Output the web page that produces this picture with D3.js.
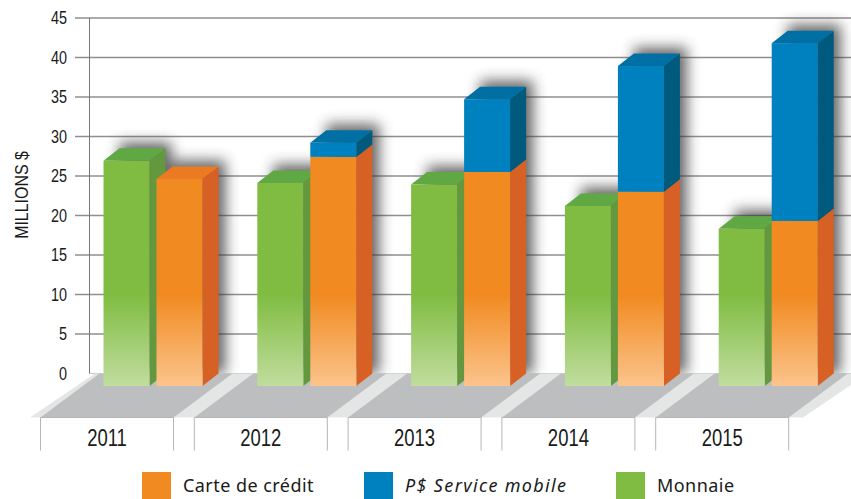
<!DOCTYPE html>
<html>
<head>
<meta charset="utf-8">
<script src="https://cdn.jsdelivr.net/npm/d3@7"></script>
<style>
  html, body { margin: 0; padding: 0; background: #fff; overflow: hidden; }
  svg { display: block; }
  text { fill: #1a1a1a; }
</style>
</head>
<body>
<script>
// values, millions of dollars
var years = ['2011', '2012', '2013', '2014', '2015'];
var monnaie = [28.5, 25.7, 25.5, 22.8, 19.9];
var carte = [26.2, 29.0, 27.1, 24.6, 20.9];
var mobile = [0, 1.8, 9.2, 15.9, 22.5];
var yTicks = [0, 5, 10, 15, 20, 25, 30, 35, 40, 45];
var legendNames = ['Carte de crédit', 'P$ Service mobile', 'Monnaie'];

var width = 851,
    height = 499,
    depthX = 16,
    depthY = 12.5,
    barW = 46,
    panelW = 133;

var colors = {
  monnaie: { front: '#80bc41', pale: '#c0dd9e', side: '#64983e', top: '#5fa843' },
  carte: { front: '#f18a20', pale: '#fbc48c', side: '#d76125', top: '#ec7a23' },
  mobile: { front: '#0081bf', pale: '#0081bf', side: '#005a7e', top: '#006fa3' }
};

var svg = d3.select('body').append('svg')
    .attr('width', width)
    .attr('height', height);

var y = d3.scaleLinear().domain([0, 45]).range([373.5, 18]);
var x = d3.scaleBand().domain(years).range([40.5, 809.5]).paddingInner(0);
var xBar = d3.scaleBand().domain(['monnaie', 'carte']).range([63, 169]);

var defs = svg.append('defs');
defs.append('filter').attr('id', 'blur')
    .attr('filterUnits', 'userSpaceOnUse')
    .attr('x', 0).attr('y', 0).attr('width', width).attr('height', height)
  .append('feGaussianBlur').attr('stdDeviation', 7);

// solid colour down to about 10 on the axis, then fading out to the floor
['monnaie', 'carte'].forEach(function(k) {
  var g = defs.append('linearGradient').attr('id', 'grad-' + k)
      .attr('gradientUnits', 'userSpaceOnUse')
      .attr('x1', 0).attr('x2', 0)
      .attr('y1', y(10)).attr('y2', y(0) + depthY);
  g.append('stop').attr('offset', 0).attr('stop-color', colors[k].front);
  g.append('stop').attr('offset', 1).attr('stop-color', colors[k].pale);
});

// back wall
var axis = d3.axisLeft(y).tickValues(yTicks).tickSize(0).tickPadding(0);
var gy = svg.append('g').attr('transform', 'translate(67,0)').call(axis);
gy.select('.domain').remove();
gy.selectAll('text')
    .attr('font-family', '"Liberation Sans", sans-serif')
    .attr('font-size', 18)
    .attr('transform', 'scale(0.8,1)')
    .attr('fill', '#1a1a1a');

svg.append('g').selectAll('line')
    .data(yTicks.filter(function(d) { return d > 0; }))
    .enter().append('line')
    .attr('x1', 75).attr('x2', width)
    .attr('y1', function(d) { return y(d); })
    .attr('y2', function(d) { return y(d); })
    .attr('stroke', '#8f8f8f')
    .attr('stroke-width', 1.3);

svg.append('line')
    .attr('x1', 89.5).attr('x2', 89.5)
    .attr('y1', y(45)).attr('y2', y(0))
    .attr('stroke', '#777')
    .attr('stroke-width', 1);

svg.append('line')
    .attr('x1', 89.5).attr('x2', width)
    .attr('y1', y(0)).attr('y2', y(0))
    .attr('stroke', '#c4c4c4');

svg.append('text')
    .attr('transform', 'translate(28,195) rotate(-90) scale(0.84,1)')
    .attr('text-anchor', 'middle')
    .attr('font-family', '"Liberation Sans", sans-serif')
    .attr('font-size', 19)
    .text('MILLIONS $');

// soft shadows the bars throw on the wall
var shadow = svg.append('g').attr('filter', 'url(#blur)').attr('fill', '#333').attr('opacity', 0.75);
years.forEach(function(yr, i) {
  var total = carte[i] + mobile[i];
  shadow.append('rect')
      .attr('x', x(yr) + xBar('monnaie') + depthX)
      .attr('y', y(monnaie[i]) - 6)
      .attr('width', barW + 6)
      .attr('height', y(0) - y(monnaie[i]) + 6);
  shadow.append('rect')
      .attr('x', x(yr) + xBar('carte') + depthX)
      .attr('y', y(total) - 6)
      .attr('width', barW + 7)
      .attr('height', y(0) - y(total) + 6);
});

// floor: pale strips and grey panels
var floorDX = 59,
    floorY = y(0),
    frontY = 417.5;

function para(x0, x1, dx) {
  return [[x0, frontY], [x1, frontY], [x1 + dx, floorY], [x0 + dx, floorY]].join(' ');
}

svg.append('polygon')
    .attr('points', para(30, 803, floorDX + 6))
    .attr('fill', '#e4e6e6');

svg.append('g').selectAll('polygon')
    .data(years)
    .enter().append('polygon')
    .attr('points', function(d) { return para(x(d), x(d) + panelW, floorDX); })
    .attr('fill', '#bcbec0');

// panels under the floor with the year labels
var panel = svg.append('g').selectAll('g')
    .data(years)
    .enter().append('g')
    .attr('transform', function(d) { return 'translate(' + x(d) + ',' + frontY + ')'; });

panel.append('path')
    .attr('d', 'M0,33V0H' + panelW + 'V33')
    .attr('fill', 'none')
    .attr('stroke', '#b5b5b5')
    .attr('stroke-width', 1);

panel.append('text')
    .attr('transform', 'translate(' + (panelW / 2) + ',28) scale(0.77,1)')
    .attr('text-anchor', 'middle')
    .attr('font-family', '"Liberation Sans", sans-serif')
    .attr('font-size', 24)
    .attr('fill', '#111')
    .text(function(d) { return d; });

// one 3d box, from value v0 up to value v1
function box(g, left, v0, v1, c, fill, withTop) {
  var yTop = y(v1) + depthY,
      yBot = y(v0) + depthY,
      right = left + barW;
  g.append('polygon')
      .attr('points', [[right, yBot], [right + depthX, yBot - depthY], [right + depthX, yTop - depthY], [right, yTop]].join(' '))
      .attr('fill', c.side);
  if (withTop) {
    g.append('polygon')
        .attr('points', [[left, yTop], [right, yTop], [right + depthX, yTop - depthY], [left + depthX, yTop - depthY]].join(' '))
        .attr('fill', c.top);
  }
  g.append('rect')
      .attr('x', left).attr('y', yTop)
      .attr('width', barW).attr('height', yBot - yTop)
      .attr('fill', fill);
}

var bars = svg.append('g');
years.forEach(function(yr, i) {
  var g = bars.append('g');
  box(g, x(yr) + xBar('monnaie'), 0, monnaie[i], colors.monnaie, 'url(#grad-monnaie)', true);
  box(g, x(yr) + xBar('carte'), 0, carte[i], colors.carte, 'url(#grad-carte)', mobile[i] === 0);
  if (mobile[i] > 0) {
    box(g, x(yr) + xBar('carte'), carte[i], carte[i] + mobile[i], colors.mobile, colors.mobile.front, true);
  }
});

// legend
var xLegend = d3.scaleOrdinal().domain(legendNames).range([142, 364, 616]);
var legendColors = d3.scaleOrdinal().domain(legendNames).range([colors.carte.front, colors.mobile.front, colors.monnaie.front]);

var legend = svg.append('g').selectAll('g')
    .data(legendNames)
    .enter().append('g')
    .attr('transform', function(d) { return 'translate(' + xLegend(d) + ',472)'; });

legend.append('rect')
    .attr('width', 29).attr('height', 27)
    .attr('fill', function(d) { return legendColors(d); });

legend.append('text')
    .attr('x', 41)
    .attr('y', 20)
    .attr('font-family', '"Noto Sans", sans-serif')
    .attr('font-size', 18)
    .attr('font-style', function(d) { return d.indexOf('P$') === 0 ? 'italic' : 'normal'; })
    .attr('letter-spacing', function(d) { return d.indexOf('P$') === 0 ? 1.35 : 0.45; })
    .attr('fill', '#333')
    .text(function(d) { return d; });
</script>
</body>
</html>
